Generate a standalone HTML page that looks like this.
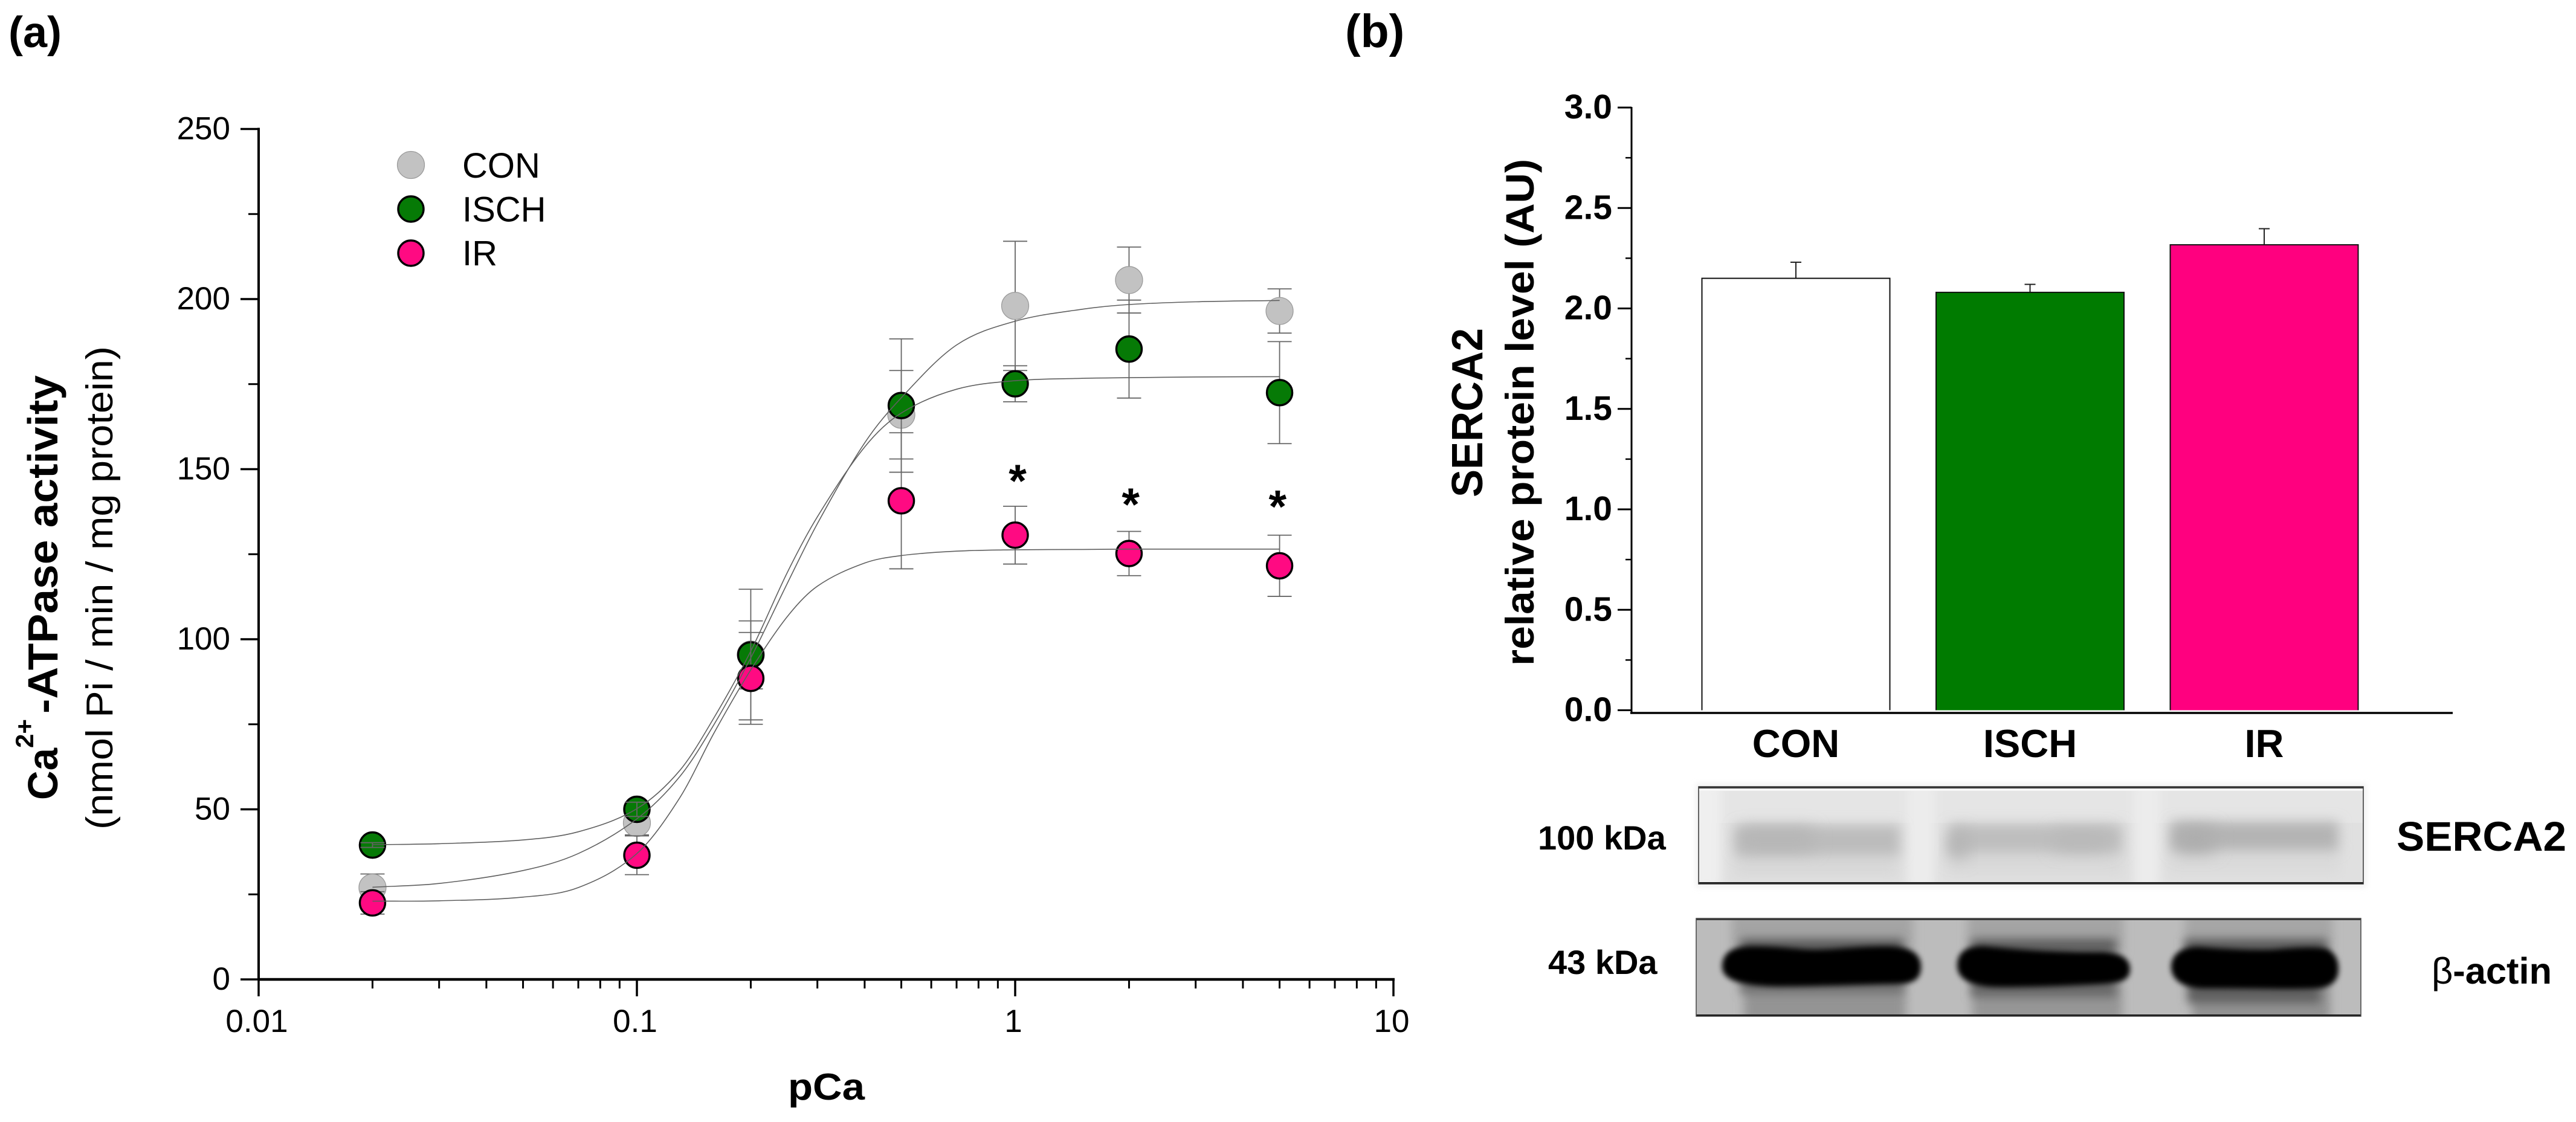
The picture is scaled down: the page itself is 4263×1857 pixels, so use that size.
<!DOCTYPE html>
<html lang="en">
<head>
<meta charset="utf-8">
<title>Ca2+-ATPase activity and SERCA2 protein level</title>
<style>
html,body{margin:0;padding:0;background:#fff;}
svg{display:block;}
text{font-family:"Liberation Sans",Arial,sans-serif;fill:#000;}
.b{font-weight:bold;}
</style>
</head>
<body>
<svg id="figure" xmlns="http://www.w3.org/2000/svg" width="4263" height="1857" viewBox="0 0 4263 1857">
<defs>
<filter id="blur4" x="-20%" y="-40%" width="140%" height="180%"><feGaussianBlur stdDeviation="4.5"/></filter>
<filter id="blur8" x="-30%" y="-150%" width="160%" height="400%"><feGaussianBlur stdDeviation="8"/></filter>
<filter id="blur10" x="-30%" y="-150%" width="160%" height="400%"><feGaussianBlur stdDeviation="10"/></filter>
<filter id="blur14" x="-60%" y="-150%" width="220%" height="400%"><feGaussianBlur stdDeviation="14"/></filter>
<clipPath id="clipBlot1"><rect x="2811" y="1302" width="1100" height="161"/></clipPath>
<clipPath id="clipBlot2"><rect x="2807" y="1520" width="1100" height="162"/></clipPath>
</defs>
<rect width="4263" height="1857" fill="#fff"/>

<text class="b" x="14" y="78" font-size="72">(a)</text>
<text class="b" x="2226" y="78" font-size="77">(b)</text>

<g id="panelA"></g>
<text class="b" transform="translate(95,1324) rotate(-90)" font-size="70" textLength="86" lengthAdjust="spacingAndGlyphs">Ca</text>
<text class="b" transform="translate(55,1238) rotate(-90)" font-size="42" textLength="48" lengthAdjust="spacingAndGlyphs">2+</text>
<text class="b" transform="translate(95,1181) rotate(-90)" font-size="70" textLength="560" lengthAdjust="spacingAndGlyphs">-ATPase activity</text>
<text transform="translate(186,1373) rotate(-90)" font-size="62" textLength="800" lengthAdjust="spacingAndGlyphs">(nmol Pi / min / mg protein)</text>
<text class="b" x="1304" y="1820" font-size="62" textLength="127" lengthAdjust="spacingAndGlyphs">pCa</text>

<g id="panelB"></g>
<text class="b" transform="translate(2453,823) rotate(-90)" font-size="72" textLength="280" lengthAdjust="spacingAndGlyphs">SERCA2</text>
<text class="b" transform="translate(2538,1102) rotate(-90)" font-size="66" textLength="839" lengthAdjust="spacingAndGlyphs">relative protein level (AU)</text>

<g>
  <rect x="2806" y="1297" width="1110" height="172" fill="#ececec" filter="url(#blur4)" opacity="0.7"/>
  <rect x="2811" y="1302" width="1100" height="161" fill="#e0e0e0"/>
  <g clip-path="url(#clipBlot1)">
    <rect x="2811" y="1302" width="1100" height="60" fill="#e5e5e5"/>
    <rect x="2800" y="1296" width="48" height="175" fill="#efefef" filter="url(#blur8)"/>
    <rect x="3156" y="1296" width="46" height="175" fill="#ececec" filter="url(#blur8)"/>
    <rect x="3532" y="1296" width="42" height="175" fill="#ececec" filter="url(#blur8)"/>
    <rect x="2870" y="1410" width="270" height="40" fill="#d8d8d8" filter="url(#blur10)"/>
    <rect x="3224" y="1408" width="290" height="40" fill="#d9d9d9" filter="url(#blur10)"/>
    <rect x="3590" y="1406" width="282" height="40" fill="#dadada" filter="url(#blur10)"/>
    <rect x="2872" y="1366" width="272" height="50" fill="#bcbcbc" filter="url(#blur10)"/>
    <rect x="2880" y="1372" width="120" height="34" fill="#b6b6b6" filter="url(#blur14)"/>
    <rect x="3226" y="1364" width="286" height="48" fill="#bebebe" filter="url(#blur10)"/>
    <rect x="3226" y="1376" width="30" height="44" fill="#b4b4b4" filter="url(#blur14)"/>
    <rect x="3400" y="1376" width="90" height="30" fill="#b8b8b8" filter="url(#blur14)"/>
    <rect x="3592" y="1360" width="278" height="48" fill="#b4b4b4" filter="url(#blur10)"/>
    <rect x="3604" y="1370" width="60" height="40" fill="#adadad" filter="url(#blur14)"/>
    <rect x="2811" y="1302" width="1100" height="3" fill="#3c3c3c"/>
    <rect x="2811" y="1305" width="1100" height="4" fill="#f6f6f6"/>
    <rect x="2811" y="1460" width="1100" height="3" fill="#1e1e1e"/>
  </g>
  <rect x="2811" y="1302" width="1100" height="161" fill="none" stroke="#333" stroke-width="1.5"/>
</g>
<g>
  <rect x="2807" y="1520" width="1100" height="162" fill="#bcbcbc"/>
  <g clip-path="url(#clipBlot2)">
    <rect x="2866" y="1510" width="300" height="70" fill="#a4a4a4" filter="url(#blur8)"/>
    <rect x="3256" y="1510" width="258" height="70" fill="#a4a4a4" filter="url(#blur8)"/>
    <rect x="3616" y="1510" width="244" height="70" fill="#a6a6a6" filter="url(#blur8)"/>
    <rect x="2886" y="1625" width="268" height="70" fill="#949494" filter="url(#blur8)"/>
    <rect x="3264" y="1625" width="248" height="70" fill="#969696" filter="url(#blur8)"/>
    <rect x="3628" y="1625" width="228" height="70" fill="#929292" filter="url(#blur8)"/>
    <rect x="2880" y="1554" width="270" height="24" fill="#5a5a5a" filter="url(#blur8)"/>
    <rect x="3262" y="1554" width="240" height="24" fill="#5c5c5c" filter="url(#blur8)"/>
    <rect x="3615" y="1554" width="236" height="24" fill="#5a5a5a" filter="url(#blur8)"/>
    <rect x="2880" y="1622" width="270" height="22" fill="#707070" filter="url(#blur8)"/>
    <rect x="3262" y="1622" width="240" height="28" fill="#686868" filter="url(#blur8)"/>
    <rect x="3620" y="1624" width="220" height="36" fill="#606060" filter="url(#blur8)"/>
    <path d="M2850 1600C2850 1575 2870 1566 2900 1566C2950 1566 2975 1571 3000 1571C3040 1571 3070 1566 3120 1566C3165 1566 3179 1580 3179 1600C3179 1622 3165 1628 3140 1629C3080 1630 3040 1632 2950 1633C2890 1633 2850 1625 2850 1600Z" fill="#000" filter="url(#blur4)"/>
    <path d="M3239 1598C3239 1575 3255 1565 3285 1566C3330 1570 3380 1575 3480 1575C3515 1577 3525 1590 3525 1604C3525 1622 3510 1627 3480 1629C3420 1632 3370 1634 3310 1634C3265 1634 3239 1622 3239 1598Z" fill="#000" filter="url(#blur4)"/>
    <path d="M3593 1600C3593 1580 3610 1566 3640 1567C3680 1570 3720 1572 3760 1571C3800 1568 3830 1566 3850 1570C3866 1578 3870 1590 3870 1604C3870 1625 3855 1636 3830 1636C3790 1638 3720 1636 3650 1636C3610 1636 3593 1620 3593 1600Z" fill="#000" filter="url(#blur4)"/>
    <rect x="2807" y="1520" width="1100" height="3" fill="#3a3a3a"/>
    <rect x="2807" y="1679" width="1100" height="3" fill="#1c1c1c"/>
  </g>
  <rect x="2807" y="1520" width="1100" height="162" fill="none" stroke="#444" stroke-width="1.5"/>
</g>

<text class="b" x="2545" y="1406" font-size="56">100 kDa</text>
<text class="b" x="2562" y="1612" font-size="56">43 kDa</text>
<text class="b" x="3966" y="1408" font-size="69" textLength="281" lengthAdjust="spacingAndGlyphs">SERCA2</text>
<text class="b" x="4024" y="1628" font-size="61" textLength="199" lengthAdjust="spacingAndGlyphs"><tspan font-weight="normal">β</tspan>-actin</text>

<script>
/* ---------- Panel (a) data ---------- */
const pCaValues = [0.02, 0.1, 0.2, 0.5, 1, 2, 5];
const conValues = [27, 46, 95.5, 166, 198, 205.6, 196.5];
const conErrors = [4, 3.5, 19.2, 13, 19, 9.7, 6.5];
const ischValues = [39.5, 50, 95.4, 168.7, 175.1, 185.3, 172.5];
const ischErrors = [0.7, 2.1, 10, 19.6, 5.3, 14.4, 15];
const irValues = [22.5, 36.5, 88.5, 140.7, 130.6, 125.2, 121.6];
const irErrors = [3.3, 5.7, 13.5, 20, 8.5, 6.5, 9];
const curvePCa = [0.02, 0.03, 0.05, 0.07, 0.1, 0.13, 0.16, 0.2, 0.25, 0.3, 0.4, 0.5, 0.7, 1, 1.5, 2, 3, 5];
const conCurve = [27.1, 28.2, 32, 37, 47.2, 59.7, 75, 94.5, 116.5, 134, 157.7, 171, 186.5, 193.5, 197, 198.4, 199.2, 199.6];
const ischCurve = [39.6, 39.9, 41, 43.4, 50.2, 61.5, 77, 96.5, 119.7, 136, 156.5, 166.5, 173.5, 176, 176.7, 176.9, 177.1, 177.2];
const irCurve = [23, 23.1, 24.2, 27, 37, 53.5, 72.5, 91, 106.7, 115.6, 122.4, 124.6, 125.9, 126.3, 126.4, 126.5, 126.5, 126.5];
const asteriskPCa = [1.015, 2.02, 4.94];
const asteriskValues = [148.3, 141.4, 140.8];
const yTickValuesA = [0, 50, 100, 150, 200, 250];
const yTickLabelsA = ['0', '50', '100', '150', '200', '250'];
const yMinorValuesA = [25, 75, 125, 175, 225];
const xTickValuesA = [0.01, 0.1, 1, 10];
const xTickLabelsA = ['0.01', '0.1', '1', '10'];
const xMinorValuesA = [0.02, 0.03, 0.04, 0.05, 0.06, 0.07, 0.08, 0.09, 0.2, 0.3, 0.4, 0.5, 0.6, 0.7, 0.8, 0.9, 2, 3, 4, 5, 6, 7, 8, 9];
const legendNames = ['CON', 'ISCH', 'IR'];

/* ---------- Panel (b) data ---------- */
const barCategories = ['CON', 'ISCH', 'IR'];
const barValues = [2.15, 2.08, 2.317];
const barErrors = [0.08, 0.04, 0.08];
const yTickValuesB = [0, 0.5, 1, 1.5, 2, 2.5, 3];
const yTickLabelsB = ['0.0', '0.5', '1.0', '1.5', '2.0', '2.5', '3.0'];
const yMinorValuesB = [0.25, 0.75, 1.25, 1.75, 2.25, 2.75];

/* ---------- Scales ---------- */
const NS = 'http://www.w3.org/2000/svg';
function xA(v) { return 428 + 626 * (Math.log10(v) + 2); }
function yA(v) { return 1621 - 5.63 * v; }
function yB(v) { return 1175.5 - 332.5 * v; }
function xB(i) { return 2972 + 387.5 * i; }

function mk(parent, tag, attrs, txt) {
  const e = document.createElementNS(NS, tag);
  for (const k in attrs) e.setAttribute(k, attrs[k]);
  if (txt !== undefined) e.textContent = txt;
  parent.appendChild(e);
  return e;
}
function smoothPath(pts) {
  const n = pts.length;
  const slope = [];
  for (let i = 0; i < n; i++) {
    const a = pts[Math.max(0, i - 1)], b = pts[Math.min(n - 1, i + 1)];
    slope.push((b[1] - a[1]) / (b[0] - a[0]));
  }
  let d = 'M' + pts[0][0].toFixed(1) + ' ' + pts[0][1].toFixed(1);
  for (let i = 0; i < n - 1; i++) {
    const p1 = pts[i], p2 = pts[i + 1], h = (p2[0] - p1[0]) / 3;
    d += 'C' + (p1[0] + h).toFixed(1) + ' ' + (p1[1] + h * slope[i]).toFixed(1) + ' ' +
      (p2[0] - h).toFixed(1) + ' ' + (p2[1] - h * slope[i + 1]).toFixed(1) + ' ' +
      p2[0].toFixed(1) + ' ' + p2[1].toFixed(1);
  }
  return d;
}

/* ---------- Draw panel (a) ---------- */
const gA = document.getElementById('panelA');
const seriesA = [
  { key: 'con', vals: conValues, errs: conErrors, curve: conCurve, fill: '#c2c2c2', stroke: '#999', sw: 1.2, r: 22.5, errAbove: false },
  { key: 'isch', vals: ischValues, errs: ischErrors, curve: ischCurve, fill: '#067a06', stroke: '#000', sw: 3.4, r: 21, errAbove: true },
  { key: 'ir', vals: irValues, errs: irErrors, curve: irCurve, fill: '#ff0a82', stroke: '#000', sw: 3.4, r: 21, errAbove: false }
];

const yAxisA = mk(gA, 'line', { x1: xA(0.01), x2: xA(0.01), y1: yA(250) - 2, y2: yA(0), stroke: '#000', 'stroke-width': 4 });


const xAxisA = mk(gA, 'line', { x1: xA(0.01), x2: xA(10) + 2, y1: yA(0), y2: yA(0), stroke: '#000', 'stroke-width': 4.5 });



yTickValuesA.forEach(function (v, i) {
  const t = mk(gA, 'line', { x1: xA(0.01) - 30, x2: xA(0.01), y1: yA(v), y2: yA(v), stroke: '#000', 'stroke-width': 3.5 });
  
  
  const l = mk(gA, 'text', { x: 381, y: yA(v) + 17, 'font-size': 53, 'text-anchor': 'end' }, yTickLabelsA[i]);
  
  
});
yMinorValuesA.forEach(function (v) {
  const t = mk(gA, 'line', { x1: xA(0.01) - 17, x2: xA(0.01), y1: yA(v), y2: yA(v), stroke: '#000', 'stroke-width': 3 });
  
  
});
xTickValuesA.forEach(function (v, i) {
  const t = mk(gA, 'line', { x1: xA(v), x2: xA(v), y1: yA(0), y2: yA(0) + 28, stroke: '#000', 'stroke-width': 3.5 });
  
  
  const l = mk(gA, 'text', { x: xA(v) - 3, y: 1708, 'font-size': 53, 'text-anchor': 'middle' }, xTickLabelsA[i]);
  
  
});
xMinorValuesA.forEach(function (v) {
  const t = mk(gA, 'line', { x1: xA(v), x2: xA(v), y1: yA(0), y2: yA(0) + 15, stroke: '#000', 'stroke-width': 3 });
  
  
});

function errorBar(s, i) {
  const v = s.vals[i], px = xA(pCaValues[i]);
  const hi = yA(v + s.errs[i]), lo = yA(v - s.errs[i]);
  const bar = mk(gA, 'path', {
    d: 'M' + (px - 20) + ' ' + hi + 'H' + (px + 20) + 'M' + px + ' ' + hi + 'V' + lo + 'M' + (px - 20) + ' ' + lo + 'H' + (px + 20),
    fill: 'none', stroke: '#666', 'stroke-width': 1.8
  });
  
  
}
seriesA.forEach(function (s) {
  s.vals.forEach(function (v, i) {
    if (!(s.errAbove && s.errs[i] * 5.63 < s.r)) errorBar(s, i);
  });
  s.vals.forEach(function (v, i) {
    const c = mk(gA, 'circle', { cx: xA(pCaValues[i]), cy: yA(v), r: s.r, fill: s.fill, stroke: s.stroke, 'stroke-width': s.sw });
    
    
  });
  s.vals.forEach(function (v, i) {
    if (s.errAbove && s.errs[i] * 5.63 < s.r) errorBar(s, i);
  });
});
seriesA.forEach(function (s) {
  const pts = s.curve.map(function (v, i) { return [xA(curvePCa[i]), yA(v)]; });
  const p = mk(gA, 'path', { d: smoothPath(pts), fill: 'none', stroke: '#5f5f5f', 'stroke-width': 1.6 });
  
  
});
asteriskValues.forEach(function (v, i) {
  const a = mk(gA, 'text', { x: xA(asteriskPCa[i]), y: yA(v) + 36, 'font-size': 76, 'font-weight': 'bold', 'text-anchor': 'middle' }, '*');
  
  
});
legendNames.forEach(function (n, i) {
  const s = seriesA[i];
  const c = mk(gA, 'circle', { cx: 680, cy: 273 + 73 * i, r: s.r, fill: s.fill, stroke: s.stroke, 'stroke-width': s.sw });
  
  
  const t = mk(gA, 'text', { x: 765, y: 294 + 72.5 * i, 'font-size': 58 }, n);
  
  
});

/* ---------- Draw panel (b) ---------- */
const gB = document.getElementById('panelB');
const barFills = ['#ffffff', '#007b00', '#ff007f'];
const barKeys = ['con', 'isch', 'ir'];

barValues.forEach(function (v, i) {
  const cx = xB(i), top = yB(v), cap = yB(v + barErrors[i]), base = yB(0);
  const e = mk(gB, 'path', { d: 'M' + (cx - 9) + ' ' + cap + 'H' + (cx + 9) + 'M' + cx + ' ' + cap + 'V' + top, fill: 'none', stroke: '#222', 'stroke-width': 2 });
  
  
  const r = mk(gB, 'rect', { x: cx - 155.5, y: top, width: 311, height: base - top, fill: barFills[i] });
  
  
  const o = mk(gB, 'path', { d: 'M' + (cx - 155.5) + ' ' + base + 'V' + top + 'H' + (cx + 155.5) + 'V' + base, fill: 'none', stroke: '#111', 'stroke-width': 2 });
  
  
  const l = mk(gB, 'text', { x: cx, y: 1253, 'font-size': 65, 'font-weight': 'bold', 'text-anchor': 'middle' }, barCategories[i]);
  
  
});
const yAxisB = mk(gB, 'line', { x1: 2700, x2: 2700, y1: yB(3) - 1, y2: 1180, stroke: '#000', 'stroke-width': 3 });


const xAxisB = mk(gB, 'line', { x1: 2698, x2: 4059, y1: 1180, y2: 1180, stroke: '#000', 'stroke-width': 3.5 });


yTickValuesB.forEach(function (v, i) {
  const t = mk(gB, 'line', { x1: 2677, x2: 2700, y1: yB(v), y2: yB(v), stroke: '#000', 'stroke-width': 3 });
  
  
  const l = mk(gB, 'text', { x: 2668, y: yB(v) + 18, 'font-size': 57, 'font-weight': 'bold', 'text-anchor': 'end' }, yTickLabelsB[i]);
  
  
});
yMinorValuesB.forEach(function (v) {
  const t = mk(gB, 'line', { x1: 2690, x2: 2700, y1: yB(v), y2: yB(v), stroke: '#000', 'stroke-width': 2.5 });
  
  
});
</script>
</svg>
</body>
</html>
